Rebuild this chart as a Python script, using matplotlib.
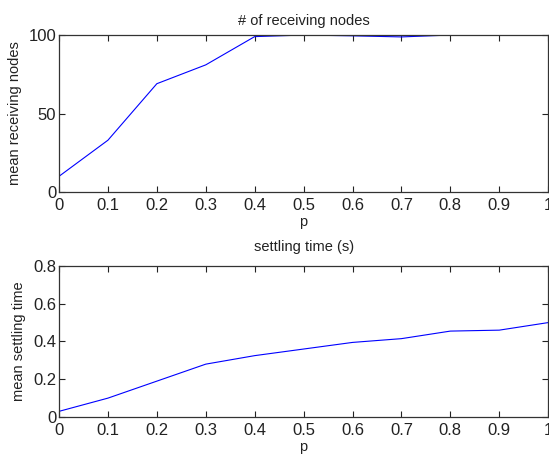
import matplotlib
matplotlib.use("Agg")
import matplotlib.pyplot as plt

p = [0, 0.1, 0.2, 0.3, 0.4, 0.5, 0.6, 0.7, 0.8, 0.9, 1.0]
receiving = [10, 33, 69, 81, 99, 100, 99.5, 98.8, 100, 100, 100]
settling = [0.03, 0.10, 0.19, 0.28, 0.325, 0.36, 0.395, 0.415, 0.455, 0.46, 0.50]

xticks = [0, 0.1, 0.2, 0.3, 0.4, 0.5, 0.6, 0.7, 0.8, 0.9, 1]
xlabels = ["0", "0.1", "0.2", "0.3", "0.4", "0.5", "0.6", "0.7", "0.8", "0.9", "1"]

plt.rcParams['font.family'] = ['Liberation Sans', 'DejaVu Sans']

fig = plt.figure(figsize=(5.49, 4.55), dpi=100)


def style(ax):
    ax.set_xlim(0, 1)
    ax.set_xticks(xticks)
    ax.set_xticklabels(xlabels)
    ax.tick_params(direction='in', top=True, right=True, length=4, width=0.8,
                   labelsize=12, pad=2, colors='#222222', labelcolor='#222222')
    ax.tick_params(axis='x', pad=4)
    for s in ax.spines.values():
        s.set_linewidth(0.9)
        s.set_color('#333333')
    ax.set_xlabel("p", fontsize=10.5, labelpad=2, color='#222222')


ax1 = fig.add_axes([0.1075, 0.578, 0.891, 0.345])
ax1.plot(p, receiving, color='#0000ff', lw=0.8)
style(ax1)
ax1.set_ylim(0, 100)
ax1.set_yticks([0, 50, 100])
ax1.set_ylabel("mean receiving nodes", fontsize=10.5, labelpad=5, color='#222222')
ax1.set_title("# of receiving nodes", fontsize=10.5, pad=7, color='#222222')

ax2 = fig.add_axes([0.1075, 0.0835, 0.891, 0.332])
ax2.plot(p, settling, color='#0000ff', lw=0.8)
style(ax2)
ax2.set_ylim(0, 0.8)
ax2.set_yticks([0, 0.2, 0.4, 0.6, 0.8])
ax2.set_yticklabels(["0", "0.2", "0.4", "0.6", "0.8"])
ax2.set_ylabel("mean settling time", fontsize=10.5, labelpad=5, color='#222222')
ax2.set_title("settling time (s)", fontsize=10.5, pad=11, color='#222222')

fig.savefig("out.png", dpi=100)
